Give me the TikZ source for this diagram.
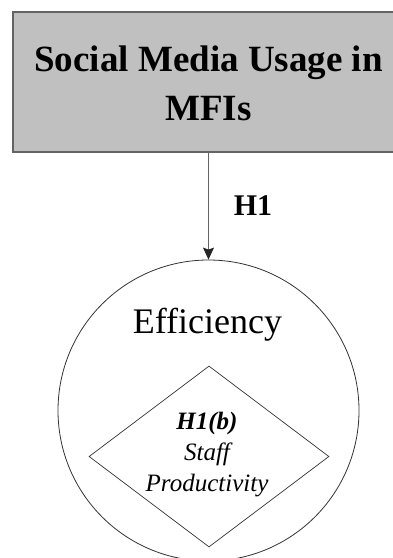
\documentclass[tikz,border=0pt]{standalone}
\usepackage{fontspec}
\setmainfont{Liberation Serif}
\usepackage{xcolor}
\usepackage{tikz}
\usetikzlibrary{arrows.meta}
\usetikzlibrary{shapes.geometric}
\definecolor{boxgray}{RGB}{192,192,192}
\definecolor{linegray}{RGB}{100,100,100}
\tikzset{
    varbox/.style = {rectangle, draw=linegray, fill=boxgray, line width=1.3pt, minimum width=390pt, minimum height=140pt, inner sep=0pt},
    vartext/.style = {align=center, inner sep=0pt, font=\fontsize{37}{49}\selectfont\bfseries},
    effcircle/.style = {circle, draw=black!80, line width=0.8pt, minimum size=301pt, inner sep=0pt},
    subdiamond/.style = {diamond, draw=black!80, line width=0.7pt, minimum width=240pt, minimum height=181pt, inner sep=0pt},
    efftext/.style = {inner sep=0pt, font=\fontsize{36}{40}\selectfont},
    subtext/.style = {align=center, inner sep=0pt, font=\fontsize{25}{31}\selectfont\itshape},
    hyp/.style = {inner sep=0pt, font=\fontsize{30}{36}\selectfont\bfseries}
}

\begin{document}
\begin{tikzpicture}[x=1pt, y=-1pt, >={Stealth[length=12pt, width=11pt, inset=2pt, color=black!85]}]
    \clip (0,0) rectangle (393,558);
    % independent variable
    \node [varbox] (smu) at (208,82) {};
    \node [vartext] (smulabel) at (208.5,83) {Social Media Usage in\\MFIs};
    % dependent variable with its sub dimension
    \node [effcircle] (eff) at (208.5,410.5) {};
    \node [efftext, anchor=base] (efflabel) at (207.5,333) {Efficiency};
    \node [subdiamond] (staff) at (209,456.5) {};
    \node [subtext] (stafflabel) at (207,455) {\textbf{H1(b)}\\Staff\\Productivity};
    % hypothesis
    \draw [->, draw=linegray, line width=1pt] (smu.south -| eff.north) -- (eff.north);
    \node [hyp, anchor=base] (h1) at (253,215) {H1};
\end{tikzpicture}
\end{document}
